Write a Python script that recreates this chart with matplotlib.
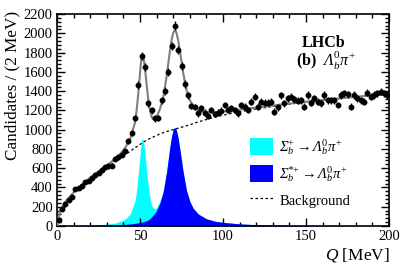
import matplotlib
matplotlib.use('Agg')
import matplotlib.pyplot as plt
import numpy as np
from matplotlib.patches import Patch
from matplotlib.lines import Line2D
from matplotlib.ticker import MultipleLocator

plt.rcParams['font.family'] = ['Liberation Serif', 'DejaVu Serif']
# italic rm so that capital Greek letters come out slanted, sf kept upright for digits
plt.rcParams['mathtext.fontset'] = 'custom'
plt.rcParams['mathtext.rm'] = 'Liberation Serif:italic'
plt.rcParams['mathtext.it'] = 'Liberation Serif:italic'
plt.rcParams['mathtext.sf'] = 'Liberation Serif'
plt.rcParams['mathtext.bf'] = 'Liberation Serif:bold'

# data points, 2 MeV bins (centres 1..199)
q_bins = np.arange(1, 200, 2)
counts = [60, 175, 225, 265, 300, 380, 390, 420, 455, 470,
          500, 530, 555, 585, 610, 618, 625, 700, 712, 740,
          775, 880, 960, 1120, 1465, 1760, 1650, 1275, 1200, 1117,
          1120, 1305, 1400, 1600, 1870, 2080, 1826, 1660, 1475, 1355,
          1245, 1235, 1169, 1220, 1176, 1141, 1203, 1162, 1176, 1196,
          1255, 1203, 1220, 1203, 1169, 1255, 1238, 1203, 1290, 1342,
          1238, 1290, 1280, 1280, 1290, 1186, 1230, 1355, 1275, 1324,
          1342, 1314, 1300, 1307, 1238, 1359, 1279, 1324, 1290, 1273,
          1359, 1307, 1307, 1307, 1255, 1359, 1376, 1369, 1238, 1359,
          1324, 1307, 1290, 1383, 1342, 1359, 1376, 1393, 1376, 1359]

# fit components
q_fit = [0, 1, 2, 4, 6, 10, 15, 20, 25, 30, 35, 40, 42, 44, 46, 47, 48, 49, 50, 50.5,
         51, 51.5, 52, 52.5, 53, 54, 55, 56, 57, 58, 59, 60, 62, 64, 66, 67, 68, 69, 70, 70.5,
         71, 71.5, 72, 73, 74, 75, 76, 78, 80, 82, 85, 90, 95, 100, 110, 120, 140, 160, 180, 200]
background = [0, 90, 160, 225, 270, 345, 425, 495, 555, 610, 665, 725, 750, 775, 800, 812, 824, 835, 846, 852,
              858, 864, 870, 875, 880, 890, 900, 908, 916, 924, 932, 940, 955, 968, 980, 985, 990, 995, 1000, 1003,
              1005, 1008, 1010, 1015, 1020, 1025, 1030, 1040, 1050, 1062, 1080, 1105, 1128, 1150, 1185, 1215, 1265, 1305, 1340, 1370]
sigma_b = [0, 0, 0, 0, 1, 1, 2, 4, 7, 12, 20, 45, 70, 100, 190, 235, 350, 515, 700, 790,
           850, 865, 840, 780, 705, 520, 345, 220, 120, 70, 45, 30, 18, 12, 7, 5, 4, 3, 3, 3,
           2, 2, 2, 2, 2, 2, 1, 1, 1, 1, 1, 0, 0, 0, 0, 0, 0, 0, 0, 0]
sigma_b_star = [0, 0, 1, 1, 1, 2, 3, 4, 6, 8, 10, 16, 18, 21, 25, 27, 30, 33, 36, 38,
                40, 42, 44, 47, 50, 56, 64, 78, 95, 115, 135, 160, 240, 355, 560, 690, 820, 930, 1000, 1015,
                1020, 1015, 990, 910, 800, 680, 560, 370, 255, 185, 125, 75, 50, 38, 22, 14, 6, 3, 1, 0]

q_fit = np.array(q_fit)
background = np.array(background)
sigma_b = np.array(sigma_b)
sigma_b_star = np.array(sigma_b_star)
total = background + sigma_b + sigma_b_star

fig = plt.figure(figsize=(4.11, 2.70), dpi=100)
ax = fig.add_axes([57/411, 44/270, 332/411, 212/270])

ax.fill_between(q_fit, 0, sigma_b_star + sigma_b, color='#00ffff', lw=0, zorder=1)
ax.fill_between(q_fit, 0, sigma_b_star, color='#0000ff', lw=0, zorder=2)
ax.plot(q_fit, background, color='black', lw=0.9, ls=(0, (2, 2)), zorder=3)
ax.plot(q_fit, total, color='#808080', lw=1.5, zorder=4)
ax.errorbar(q_bins, counts, xerr=1, yerr=np.sqrt(counts), fmt='o', color='black',
            ms=3.2, elinewidth=1.0, capsize=0, zorder=5)

ax.set_xlim(0, 200)
ax.set_ylim(0, 2200)
ax.xaxis.set_major_locator(MultipleLocator(50))
ax.xaxis.set_minor_locator(MultipleLocator(10))
ax.yaxis.set_major_locator(MultipleLocator(200))
ax.yaxis.set_minor_locator(MultipleLocator(40))
ax.tick_params(which='both', direction='in', top=True, right=True, labelsize=10.5, width=1)
ax.tick_params(which='major', length=6, pad=3)
ax.tick_params(which='minor', length=3)
for s in ax.spines.values():
    s.set_linewidth(1.2)

fig.text(12/411, 1 - 11/270, 'Candidates / (2 MeV)', rotation=90, ha='center', va='top', fontsize=12.3)
fig.text(390/411, 1 - 255/270, r'$Q$ [MeV]', ha='right', va='center', fontsize=12.5)

fig.text(324/411, 1 - 43/270, 'LHCb', ha='center', va='center', fontsize=11.5, fontweight='bold')
fig.text(326/411, 1 - 61/270, r'(b)  $\Lambda_b^{\mathsf{0}}\pi^{\mathsf{+}}$',
         ha='center', va='center', fontsize=11.5, fontweight='bold')

handles = [Patch(color='#00ffff', lw=0), Patch(color='#0000ff', lw=0),
           Line2D([], [], color='black', lw=0.9, ls=(0, (2, 2)))]
labels = [r'$\Sigma_b^{\mathsf{+}}\rightarrow\Lambda_b^{\mathsf{0}}\pi^{\mathsf{+}}$',
          r'$\Sigma_b^{*\mathsf{+}}\rightarrow\Lambda_b^{\mathsf{0}}\pi^{\mathsf{+}}$',
          'Background']
ax.legend(handles, labels, loc='upper left', bbox_to_anchor=(250/411, 1 - 137/270),
          bbox_transform=fig.transFigure, frameon=False, borderpad=0, borderaxespad=0,
          handlelength=1.6, handleheight=1.4, handletextpad=0.4, labelspacing=0.5, fontsize=10.5)

fig.savefig('out.png', dpi=100)
